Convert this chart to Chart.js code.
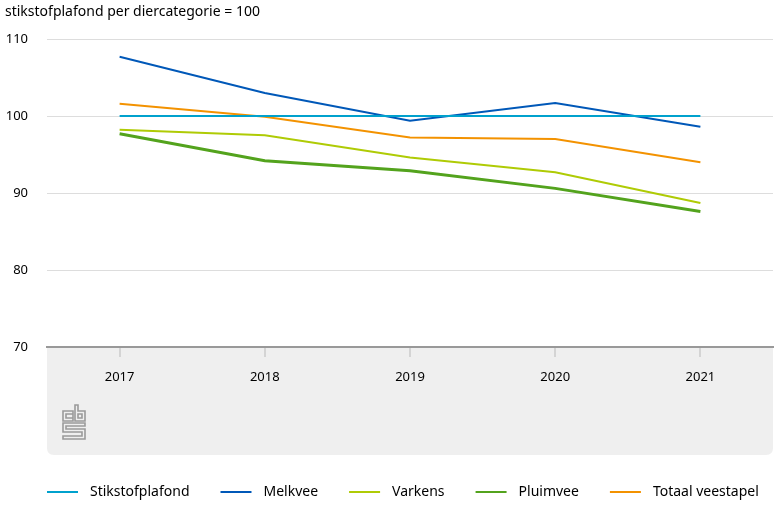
<!DOCTYPE html>
<html>
<head>
<meta charset="utf-8">
<script src="https://cdn.jsdelivr.net/npm/chart.js@4/dist/chart.umd.min.js"></script>
<style>
  html, body { margin: 0; padding: 0; background: #fff; }
  #wrap { width: 781px; height: 515px; position: relative; }
</style>
</head>
<body>
<div id="wrap"><canvas id="chart"></canvas></div>
<script>
var years = ["2017", "2018", "2019", "2020", "2021"];
var plafond = [100, 100, 100, 100, 100];
var melkvee = [107.7, 103.0, 99.4, 101.7, 98.6];
var varkens = [98.2, 97.5, 94.6, 92.7, 88.7];
var pluimvee = [97.7, 94.2, 92.9, 90.6, 87.6];
var totaal = [101.6, 99.9, 97.2, 97.0, 94.0];
var yTicks = [70, 80, 90, 100, 110];

var FONT = "'Noto Sans', sans-serif";

function makeSet(label, values, color, width) {
    return {
        label: label,
        data: values,
        borderColor: color,
        backgroundColor: color,
        borderWidth: width,
        pointRadius: 0,
        pointHoverRadius: 0,
        tension: 0,
        fill: false
    };
}

// grey footer box under the plot, title, logo and legend
var decor = {
    id: 'decor',
    beforeDraw: function (chart) {
        var ctx = chart.ctx;
        var a = chart.chartArea;
        var top = a.bottom, bottom = 455, r = 7;
        ctx.save();
        ctx.fillStyle = '#efefef';
        ctx.beginPath();
        ctx.moveTo(a.left, top);
        ctx.lineTo(a.right, top);
        ctx.lineTo(a.right, bottom - r);
        ctx.quadraticCurveTo(a.right, bottom, a.right - r, bottom);
        ctx.lineTo(a.left + r, bottom);
        ctx.quadraticCurveTo(a.left, bottom, a.left, bottom - r);
        ctx.closePath();
        ctx.fill();
        ctx.restore();
    },
    afterDraw: function (chart) {
        var ctx = chart.ctx;
        ctx.save();
        // title
        ctx.fillStyle = '#000';
        ctx.font = '14px ' + FONT;
        ctx.textBaseline = 'middle';
        ctx.textAlign = 'left';
        ctx.fillText('stikstofplafond per diercategorie = 100', 5, 12);

        // cbs logo (rough)
        ctx.strokeStyle = '#9a9a9a';
        ctx.lineWidth = 1.6;
        var x0 = 62, y0 = 405;
        ctx.beginPath();
        // c
        ctx.rect(x0 + 1, y0 + 6, 10, 10);
        ctx.moveTo(x0 + 11, y0 + 9); ctx.lineTo(x0 + 4, y0 + 9); ctx.lineTo(x0 + 4, y0 + 13); ctx.lineTo(x0 + 11, y0 + 13);
        // b
        ctx.moveTo(x0 + 13, y0); ctx.lineTo(x0 + 13, y0 + 16); ctx.lineTo(x0 + 23, y0 + 16); ctx.lineTo(x0 + 23, y0 + 6); ctx.lineTo(x0 + 16, y0 + 6); ctx.lineTo(x0 + 16, y0);
        ctx.closePath();
        ctx.rect(x0 + 16, y0 + 9, 4, 4);
        // s
        ctx.moveTo(x0 + 1, y0 + 18); ctx.lineTo(x0 + 23, y0 + 18); ctx.lineTo(x0 + 23, y0 + 21); ctx.lineTo(x0 + 4, y0 + 21);
        ctx.lineTo(x0 + 4, y0 + 24); ctx.lineTo(x0 + 23, y0 + 24); ctx.lineTo(x0 + 23, y0 + 34); ctx.lineTo(x0 + 1, y0 + 34);
        ctx.lineTo(x0 + 1, y0 + 31); ctx.lineTo(x0 + 20, y0 + 31); ctx.lineTo(x0 + 20, y0 + 27); ctx.lineTo(x0 + 1, y0 + 27);
        ctx.closePath();
        ctx.stroke();

        // legend
        var x = 47, y = 492;
        ctx.font = '14px ' + FONT;
        ctx.textBaseline = 'middle';
        chart.data.datasets.forEach(function (ds) {
            ctx.strokeStyle = ds.borderColor;
            ctx.lineWidth = 2;
            ctx.beginPath();
            ctx.moveTo(x, y);
            ctx.lineTo(x + 31, y);
            ctx.stroke();
            ctx.fillStyle = '#000';
            ctx.fillText(ds.label, x + 43, y);
            x += 43 + ctx.measureText(ds.label).width + 31;
        });
        ctx.restore();
    }
};

new Chart(document.getElementById('chart'), {
    type: 'line',
    data: {
        labels: years,
        datasets: [
            makeSet('Stikstofplafond', plafond, '#00a1cd', 2),
            makeSet('Melkvee', melkvee, '#0058b8', 2),
            makeSet('Varkens', varkens, '#afcb05', 2),
            makeSet('Pluimvee', pluimvee, '#53a31d', 3),
            makeSet('Totaal veestapel', totaal, '#f39200', 2)
        ]
    },
    options: {
        responsive: true,
        maintainAspectRatio: false,
        animation: false,
        layout: { padding: { left: 0, right: 8, top: 39, bottom: 0 } },
        plugins: {
            legend: { display: false },
            tooltip: { enabled: false }
        },
        scales: {
            x: {
                offset: true,
                grid: { drawOnChartArea: false, drawTicks: true, tickLength: 10, color: '#d4d4d4', lineWidth: 2 },
                border: { display: true, color: '#999999', width: 2 },
                ticks: { color: '#000', font: { family: FONT, size: 13 }, padding: 12, maxRotation: 0 },
                afterFit: function (scale) { scale.height = 168; }
            },
            y: {
                min: 70,
                max: 110,
                afterBuildTicks: function (scale) {
                    scale.ticks = yTicks.map(function (v) { return { value: v }; });
                },
                grid: { color: '#dddddd', lineWidth: 1, drawTicks: false },
                border: { display: false },
                ticks: { color: '#000', font: { family: FONT, size: 13 }, padding: 19 },
                afterFit: function (scale) { scale.width = 47; }
            }
        }
    },
    plugins: [decor]
});
</script>
</body>
</html>
